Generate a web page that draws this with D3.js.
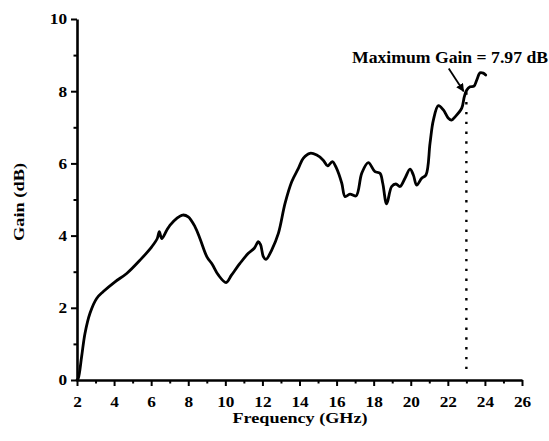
<!DOCTYPE html>
<html>
<head>
<meta charset="utf-8">
<script src="https://cdn.jsdelivr.net/npm/d3@7"></script>
<style>
  html, body { margin: 0; padding: 0; background: #fff; }
  svg { display: block; }
  text { font-family: "Liberation Serif", "Times New Roman", serif; font-weight: bold; fill: #000; }
</style>
</head>
<body>
<svg id="chart" width="549" height="441"></svg>
<script>
// ---- data ----
const freq = [2.0, 2.07, 2.25, 2.43, 2.7, 3.06, 3.42, 4.05, 4.68, 5.4, 6.03, 6.33, 6.44, 6.57, 6.84, 7.02, 7.38, 7.7, 8.0, 8.36, 8.63, 9.0, 9.3, 9.62, 10.04, 10.34, 10.79, 11.24, 11.56, 11.78, 11.9, 12.05, 12.19, 12.5, 12.86, 13.22, 13.58, 13.94, 14.2, 14.57, 14.93, 15.28, 15.52, 15.77, 16.0, 16.28, 16.46, 16.72, 17.05, 17.36, 17.71, 18.07, 18.34, 18.49, 18.7, 18.97, 19.2, 19.42, 19.69, 19.96, 20.14, 20.32, 20.59, 20.82, 21.04, 21.22, 21.49, 21.76, 22.03, 22.2, 22.39, 22.75, 22.89, 23.02, 23.2, 23.41, 23.56, 23.74, 23.91, 24.04];
const gain = [0.0, 0.05, 0.65, 1.29, 1.85, 2.26, 2.45, 2.72, 2.95, 3.32, 3.69, 3.92, 4.11, 3.92, 4.15, 4.29, 4.48, 4.57, 4.52, 4.25, 3.92, 3.42, 3.2, 2.91, 2.7, 2.91, 3.23, 3.51, 3.65, 3.83, 3.75, 3.42, 3.34, 3.6, 4.06, 4.89, 5.49, 5.86, 6.14, 6.28, 6.23, 6.09, 5.93, 6.05, 5.86, 5.45, 5.08, 5.15, 5.1, 5.73, 6.02, 5.77, 5.73, 5.45, 4.88, 5.36, 5.43, 5.36, 5.59, 5.84, 5.68, 5.4, 5.59, 5.68, 6.56, 7.2, 7.6, 7.48, 7.25, 7.2, 7.29, 7.53, 7.85, 8.03, 8.12, 8.14, 8.31, 8.51, 8.5, 8.45];
const xTicks = [2, 4, 6, 8, 10, 12, 14, 16, 18, 20, 22, 24, 26];
const yTicks = [0, 2, 4, 6, 8, 10];
const markerFreq = 23;
const markerGain = 7.97;
const annotationText = "Maximum Gain = 7.97 dB";
const xTitle = "Frequency (GHz)";
const yTitle = "Gain (dB)";

// ---- layout ----
const svg = d3.select("#chart");
const x = d3.scaleLinear().domain([2, 26]).range([77, 522]);
const y = d3.scaleLinear().domain([0, 10]).range([380, 19]);

// minor ticks
svg.append("g").attr("transform", "translate(0,380)")
  .call(d3.axisBottom(x).tickValues(d3.range(3, 26, 2)).tickSize(3.5).tickFormat(""))
  .call(g => g.select(".domain").remove())
  .call(g => g.selectAll("line").attr("stroke", "#000").attr("stroke-width", 2));
svg.append("g").attr("transform", "translate(77,0)")
  .call(d3.axisLeft(y).tickValues(d3.range(1, 10, 2)).tickSize(3.5).tickFormat(""))
  .call(g => g.select(".domain").remove())
  .call(g => g.selectAll("line").attr("stroke", "#000").attr("stroke-width", 2));

// major axes
const xa = svg.append("g").attr("transform", "translate(0,380)")
  .call(d3.axisBottom(x).tickValues(xTicks).tickSize(6).tickSizeOuter(0).tickPadding(10).tickFormat(d3.format("d")));
const ya = svg.append("g").attr("transform", "translate(77,0)")
  .call(d3.axisLeft(y).tickValues(yTicks).tickSize(6).tickSizeOuter(0).tickPadding(4).tickFormat(d3.format("d")));
[xa, ya].forEach(g => {
  g.select(".domain").attr("stroke", "#000").attr("stroke-width", 2.6);
  g.selectAll(".tick line").attr("stroke", "#000").attr("stroke-width", 2);
  g.selectAll(".tick text").attr("font-size", 15).attr("font-family", "Liberation Serif, Times New Roman, serif").attr("font-weight", "bold").attr("fill", "#000");
});

// dotted marker line
svg.append("line")
  .attr("x1", x(markerFreq)).attr("x2", x(markerFreq))
  .attr("y1", y(markerGain)).attr("y2", y(0) - 4)
  .attr("stroke", "#000").attr("stroke-width", 2.4)
  .attr("stroke-dasharray", "2.4,7.4");

// curve
const pts = freq.map((f, i) => [f, gain[i]]);
svg.append("path")
  .datum(pts)
  .attr("fill", "none").attr("stroke", "#000").attr("stroke-width", 2.8)
  .attr("stroke-linejoin", "round").attr("stroke-linecap", "round")
  .attr("d", d3.line().x(d => x(d[0])).y(d => y(d[1])).curve(d3.curveCatmullRom.alpha(0.5)));

// arrow
const defs = svg.append("defs");
defs.append("marker").attr("id", "ah").attr("viewBox", "0 0 10 10")
  .attr("refX", 9).attr("refY", 5).attr("markerWidth", 4.5).attr("markerHeight", 4.5)
  .attr("orient", "auto")
  .append("path").attr("d", "M0,0 L10,5 L0,10 z").attr("fill", "#000");
svg.append("line")
  .attr("x1", x(22.05)).attr("y1", y(8.63))
  .attr("x2", x(22.85)).attr("y2", y(8.0))
  .attr("stroke", "#000").attr("stroke-width", 1.8)
  .attr("marker-end", "url(#ah)");

// texts
const ann = svg.append("text").attr("x", 352).attr("y", 63)
  .attr("font-size", 16).text(annotationText);
const xt = svg.append("text").attr("x", 300).attr("y", 423).attr("text-anchor", "middle")
  .attr("font-size", 15.5).text(xTitle);
const yt = svg.append("text").attr("transform", "translate(24,202) rotate(-90)").attr("text-anchor", "middle")
  .attr("font-size", 15.5).text(yTitle);

// widen glyphs to match the reference's wide bold serif face
function stretchTo(sel, w) {
  sel.attr("textLength", w).attr("lengthAdjust", "spacingAndGlyphs");
}
stretchTo(ann, 196);
stretchTo(xt, 135);
stretchTo(yt, 78);
svg.selectAll(".tick text").each(function () {
  const n = this.getComputedTextLength();
  d3.select(this).attr("textLength", n * 1.15).attr("lengthAdjust", "spacingAndGlyphs");
});
</script>
</body>
</html>
